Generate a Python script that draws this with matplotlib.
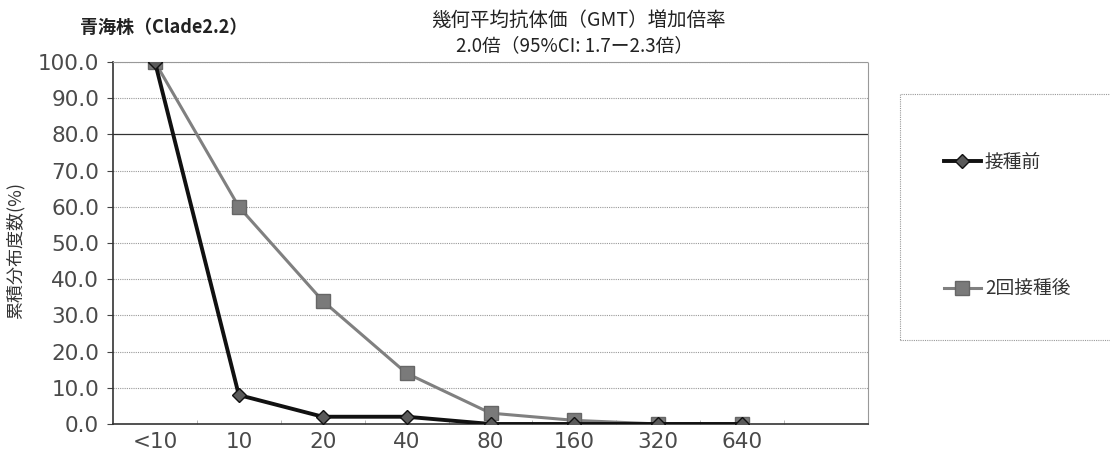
import numpy as np
import matplotlib
matplotlib.use('Agg')
import matplotlib.pyplot as plt

plt.rcParams['font.family'] = ['Noto Sans CJK JP', 'DejaVu Sans']

# 抗体価カテゴリ(最後の枠は空欄)
titers = ['<10', '10', '20', '40', '80', '160', '320', '640', '']
before = [100.0, 8.0, 2.0, 2.0, 0.0, 0.0, 0.0, 0.0]
after2 = [100.0, 60.0, 34.0, 14.0, 3.0, 1.0, 0.0, 0.0]
yticks = np.arange(0, 101, 10)

fig = plt.figure(figsize=(11.1, 4.61), dpi=100)
ax = fig.add_axes([0.1018, 0.0803, 0.6802, 0.7852])

x = np.arange(len(titers))
ax.plot(x[:len(after2)], after2, color='#808080', lw=2.2, marker='s', ms=10.5,
        mfc='#7a7a7a', mec='#666666', label='2回接種後', zorder=3)
ax.plot(x[:len(before)], before, color='#111111', lw=2.8, marker='D', ms=7.5,
        mfc='#5a5a5a', mec='#111111', label='接種前', zorder=4)

ax.set_xlim(-0.5, len(titers) - 0.5)
ax.set_ylim(0, 100)
ax.set_xticks(x)
ax.set_xticklabels(titers, fontsize=15.5, color='#4a4a4a', family=['DejaVu Sans'])
ax.set_xticks(x[:-1] + 0.5, minor=True)
ax.set_yticks(yticks)
ax.set_yticklabels([f'{v:.1f}' for v in yticks], fontsize=15.5, color='#4a4a4a',
                   family=['DejaVu Sans'])
ax.tick_params(axis='x', which='major', length=0, pad=6)
ax.tick_params(axis='x', which='minor', length=3, direction='in', color='#aaaaaa')
ax.tick_params(axis='y', length=4, direction='out', color='#444444', pad=6)

for v in yticks[1:]:
    if v == 80:
        ax.axhline(v, color='#333333', lw=0.9, zorder=1)
    else:
        ax.axhline(v, color='#999999', lw=0.8, ls=(0, (1, 1)), zorder=1)

for side in ['top', 'right']:
    ax.spines[side].set_color('#999999')
    ax.spines[side].set_linestyle((0, (1, 1)))
    ax.spines[side].set_linewidth(0.8)
for side in ['left', 'bottom']:
    ax.spines[side].set_color('#333333')
    ax.spines[side].set_linewidth(1.2)

ax.set_ylabel('累積分布度数(%)', fontsize=13, color='#333333')
ax.yaxis.set_label_coords(-0.117, 0.478)

fig.text(0.072, 0.94, '青海株（Clade2.2）', fontsize=13, fontweight='bold',
         ha='left', va='center', color='#222222')
fig.text(0.521, 0.955, '幾何平均抗体価（GMT）増加倍率', fontsize=14,
         ha='center', va='center', color='#222222')
fig.text(0.518, 0.9, '2.0倍（95%CI: 1.7ー2.3倍）', fontsize=13.5,
         ha='center', va='center', color='#222222')

# 凡例枠
box = plt.Rectangle((0.811, 0.262), 0.2, 0.535, transform=fig.transFigure,
                    fill=False, ec='#999999', lw=0.8, ls=(0, (1, 1)))
fig.add_artist(box)
h, l = ax.get_legend_handles_labels()
leg = fig.legend(h[::-1], l[::-1], loc='upper left', bbox_to_anchor=(0.835, 0.708),
                 frameon=False, fontsize=13.5, labelspacing=5.65, handlelength=2.0,
                 handletextpad=0.2)
for t in leg.get_texts():
    t.set_color('#333333')

fig.savefig('out.png', dpi=100)
